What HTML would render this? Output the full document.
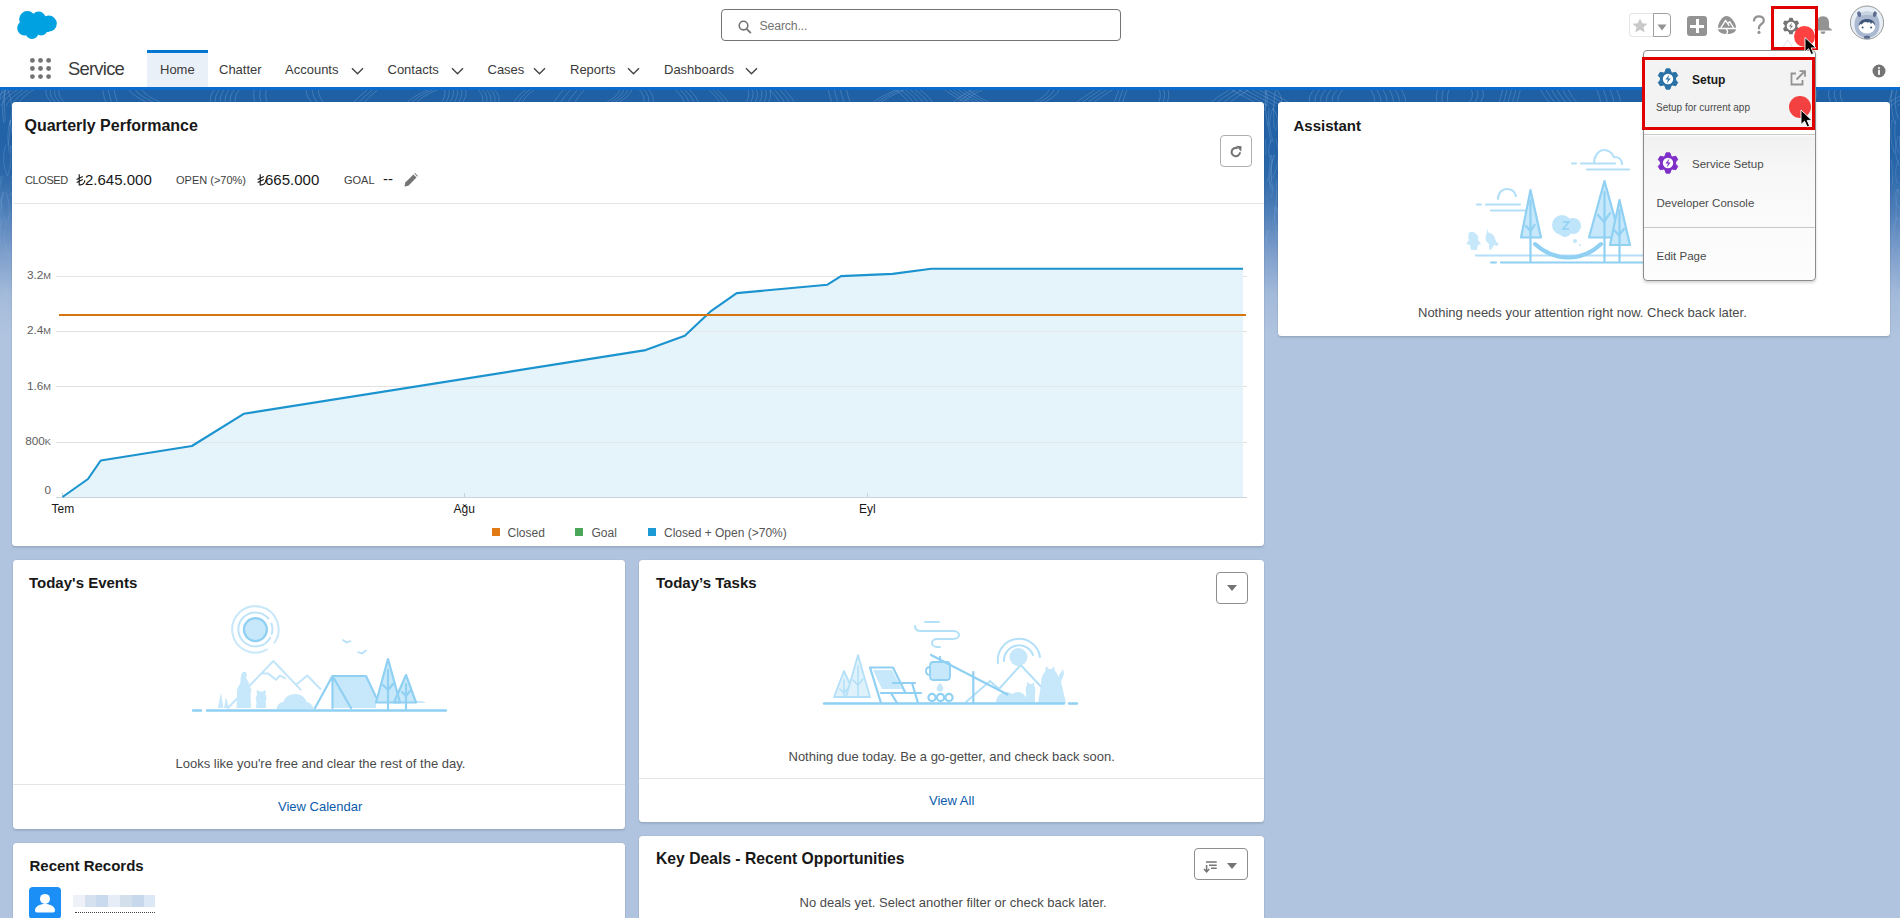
<!DOCTYPE html>
<html><head><meta charset="utf-8">
<style>
*{box-sizing:border-box;margin:0;padding:0}
html,body{width:1900px;height:918px;overflow:hidden}
body{font-family:"Liberation Sans",sans-serif;color:#181818;background:#b0c4df;position:relative}
.abs{position:absolute}
#bg{position:absolute;left:0;top:87px;width:1900px;height:831px;background:linear-gradient(to bottom,#0a6ccc 0px,#0a6ccc 2.5px,#1f60a4 3px,#2463a7 60px,#2b68aa 85px,#4f7fb8 125px,#7d9ecb 166px,#a3bada 207px,#b0c4df 248px)}
#header{position:absolute;left:0;top:0;width:1900px;height:50px;background:#fff}
#nav{position:absolute;left:0;top:50px;width:1900px;height:37px;background:#fff}
.card{position:absolute;background:#fff;border-radius:3.5px;box-shadow:0 2px 2px rgba(0,0,0,0.10),0 0 0 0.5px rgba(0,0,0,0.06)}
.ctitle{position:absolute;font-weight:bold;font-size:16px;color:#181818;white-space:nowrap}
.txt{position:absolute;white-space:nowrap}
.tab{position:absolute;top:62px;font-size:14px;color:#181818;white-space:nowrap}
.chev{position:absolute;top:65px;width:12px;height:8px}
</style></head>
<body>
<div id="bg"></div>
<svg class="abs" style="left:0;top:87px" width="1900" height="250" viewBox="0 87 1900 250"><defs><linearGradient id="fm" x1="0" y1="0" x2="0" y2="1"><stop offset="0" stop-color="#fff" stop-opacity="1"/><stop offset="0.55" stop-color="#fff" stop-opacity="0.6"/><stop offset="1" stop-color="#fff" stop-opacity="0"/></linearGradient><mask id="mk"><rect x="0" y="90" width="1900" height="247" fill="url(#fm)"/></mask><clipPath id="cp"><rect x="0" y="90" width="1900" height="250"/></clipPath></defs><g clip-path="url(#cp)"><g mask="url(#mk)" fill="none" stroke="#8db5e3" stroke-opacity="0.32" stroke-width="1"><path d="M-10.0 106Q-6.3 97 9.8 88 M-4.6 106Q-0.9 97 15.2 88 M0.7 106Q4.4 97 20.5 88 M6.1 106Q9.8 97 25.9 88 M11.4 106Q15.1 97 31.3 88 M16.8 106Q20.5 97 36.6 88 M55.9 106Q43.1 97 46.6 88 M60.1 106Q47.3 97 50.9 88 M64.4 106Q51.6 97 55.2 88 M68.7 106Q55.9 97 59.5 88 M106.9 106Q103.6 97 102.2 88 M112.7 106Q109.4 97 108.0 88 M118.5 106Q115.2 97 113.8 88 M155.9 106Q132.3 97 127.3 88 M162.4 106Q138.8 97 133.8 88 M168.9 106Q145.3 97 140.3 88 M211.5 106Q207.5 97 215.6 88 M216.5 106Q212.4 97 220.6 88 M221.5 106Q217.4 97 225.5 88 M226.5 106Q222.4 97 230.5 88 M231.4 106Q227.4 97 235.5 88 M236.4 106Q232.4 97 240.5 88 M256.9 106Q251.5 97 255.0 88 M262.9 106Q257.5 97 261.0 88 M268.9 106Q263.5 97 267.0 88 M314.8 106Q305.1 97 306.2 88 M320.9 106Q311.2 97 312.3 88 M327.0 106Q317.3 97 318.4 88 M350.4 106Q357.7 97 369.5 88 M355.6 106Q362.9 97 374.7 88 M360.8 106Q368.1 97 379.9 88 M404.6 106Q409.4 97 432.0 88 M409.3 106Q414.0 97 436.6 88 M413.9 106Q418.7 97 441.3 88 M438.6 106Q447.1 97 444.4 88 M442.8 106Q451.3 97 448.7 88 M447.0 106Q455.5 97 452.9 88 M451.2 106Q459.7 97 457.1 88 M455.5 106Q464.0 97 461.3 88 M459.7 106Q468.2 97 465.5 88 M480.5 106Q487.0 97 476.5 88 M484.6 106Q491.0 97 480.6 88 M488.6 106Q495.1 97 484.6 88 M492.7 106Q499.1 97 488.7 88 M496.7 106Q503.2 97 492.7 88 M513.1 106Q514.3 97 528.4 88 M517.2 106Q518.5 97 532.6 88 M521.4 106Q522.6 97 536.7 88 M551.5 106Q556.6 97 565.0 88 M558.5 106Q563.6 97 571.9 88 M565.4 106Q570.5 97 578.9 88 M572.4 106Q577.5 97 585.8 88 M599.6 106Q619.4 97 620.3 88 M603.6 106Q623.4 97 624.3 88 M607.6 106Q627.4 97 628.3 88 M611.6 106Q631.4 97 632.3 88 M642.6 106Q647.3 97 637.8 88 M647.2 106Q651.9 97 642.5 88 M651.8 106Q656.6 97 647.1 88 M685.0 106Q684.6 97 673.2 88 M689.7 106Q689.2 97 677.9 88 M694.3 106Q693.9 97 682.5 88 M698.9 106Q698.5 97 687.2 88 M722.1 106Q717.4 97 707.2 88 M726.3 106Q721.6 97 711.4 88 M730.5 106Q725.8 97 715.6 88 M743.3 106Q751.9 97 747.2 88 M747.6 106Q756.2 97 751.5 88 M752.0 106Q760.6 97 755.9 88 M756.4 106Q765.0 97 760.3 88 M760.8 106Q769.4 97 764.7 88 M765.2 106Q773.8 97 769.1 88 M781.9 106Q777.3 97 768.3 88 M786.8 106Q782.2 97 773.2 88 M791.8 106Q787.2 97 778.2 88 M796.7 106Q792.1 97 783.1 88 M832.8 106Q830.0 97 827.8 88 M838.9 106Q836.0 97 833.9 88 M845.0 106Q842.1 97 839.9 88 M851.0 106Q848.2 97 846.0 88 M867.6 106Q878.6 97 900.0 88 M871.7 106Q882.7 97 904.1 88 M875.8 106Q886.8 97 908.2 88 M910.5 106Q906.2 97 893.2 88 M915.4 106Q911.1 97 898.0 88 M920.3 106Q916.0 97 902.9 88 M925.1 106Q920.9 97 907.8 88 M930.0 106Q925.8 97 912.7 88 M934.9 106Q930.6 97 917.6 88 M950.0 106Q957.1 97 976.1 88 M954.8 106Q962.0 97 981.0 88 M959.7 106Q966.8 97 985.8 88 M973.0 106Q953.2 97 942.1 88 M977.8 106Q957.9 97 946.8 88 M982.5 106Q962.7 97 951.5 88 M987.3 106Q967.4 97 956.3 88 M992.0 106Q972.2 97 961.0 88 M996.8 106Q976.9 97 965.8 88 M1026.5 106Q1047.7 97 1049.7 88 M1031.6 106Q1052.8 97 1054.8 88 M1036.7 106Q1057.9 97 1059.9 88 M1070.8 106Q1083.7 97 1097.7 88 M1076.6 106Q1089.5 97 1103.5 88 M1082.3 106Q1095.3 97 1109.2 88 M1088.1 106Q1101.1 97 1115.0 88 M1113.3 106Q1116.0 97 1119.5 88 M1117.4 106Q1120.1 97 1123.5 88 M1121.4 106Q1124.2 97 1127.6 88 M1156.9 106Q1162.6 97 1158.9 88 M1161.1 106Q1166.9 97 1163.1 88 M1165.3 106Q1171.1 97 1167.4 88 M1206.4 106Q1216.3 97 1232.2 88 M1212.7 106Q1222.7 97 1238.6 88 M1219.1 106Q1229.1 97 1245.0 88 M1225.5 106Q1235.5 97 1251.4 88 M1261.8 106Q1245.0 97 1228.2 88 M1268.6 106Q1251.8 97 1235.1 88 M1275.5 106Q1258.7 97 1241.9 88 M1282.3 106Q1265.5 97 1248.7 88 M1289.1 106Q1272.3 97 1255.6 88 M1296.0 106Q1279.2 97 1262.4 88 M1311.3 106Q1305.3 97 1316.1 88 M1317.0 106Q1311.1 97 1321.9 88 M1322.8 106Q1316.8 97 1327.6 88 M1328.5 106Q1322.5 97 1333.4 88 M1334.2 106Q1328.3 97 1339.1 88 M1340.0 106Q1334.0 97 1344.9 88 M1374.2 106Q1376.4 97 1369.2 88 M1380.4 106Q1382.6 97 1375.4 88 M1386.6 106Q1388.8 97 1381.6 88 M1392.8 106Q1395.0 97 1387.8 88 M1398.9 106Q1401.1 97 1393.9 88 M1405.1 106Q1407.3 97 1400.1 88 M1437.9 106Q1434.4 97 1438.5 88 M1443.5 106Q1440.0 97 1444.1 88 M1449.0 106Q1445.5 97 1449.7 88 M1465.4 106Q1476.4 97 1470.5 88 M1470.9 106Q1481.9 97 1476.0 88 M1476.4 106Q1487.3 97 1481.5 88 M1498.0 106Q1500.9 97 1503.1 88 M1502.5 106Q1505.3 97 1507.5 88 M1506.9 106Q1509.8 97 1511.9 88 M1511.3 106Q1514.2 97 1516.4 88 M1515.8 106Q1518.6 97 1520.8 88 M1552.3 106Q1544.0 97 1539.5 88 M1557.8 106Q1549.5 97 1545.0 88 M1563.3 106Q1555.0 97 1550.5 88 M1568.8 106Q1560.5 97 1556.0 88 M1574.3 106Q1566.0 97 1561.5 88 M1579.8 106Q1571.5 97 1567.0 88 M1601.3 106Q1600.4 97 1596.1 88 M1607.9 106Q1607.0 97 1602.7 88 M1614.6 106Q1613.6 97 1609.4 88 M1621.2 106Q1620.3 97 1616.0 88 M1646.0 106Q1648.7 97 1669.7 88 M1651.0 106Q1653.7 97 1674.8 88 M1656.1 106Q1658.8 97 1679.8 88 M1661.1 106Q1663.8 97 1684.9 88 M1666.2 106Q1668.9 97 1689.9 88 M1671.3 106Q1673.9 97 1695.0 88 M1686.4 106Q1694.2 97 1685.1 88 M1690.7 106Q1698.6 97 1689.4 88 M1695.0 106Q1702.9 97 1693.8 88 M1699.4 106Q1707.3 97 1698.1 88 M1738.3 106Q1750.3 97 1748.6 88 M1744.3 106Q1756.3 97 1754.6 88 M1750.3 106Q1762.3 97 1760.6 88 M1756.3 106Q1768.3 97 1766.7 88 M1762.4 106Q1774.4 97 1772.7 88 M1768.4 106Q1780.4 97 1778.7 88 M1802.4 106Q1808.4 97 1807.2 88 M1807.2 106Q1813.2 97 1812.0 88 M1812.1 106Q1818.0 97 1816.9 88 M1833.9 106Q1825.6 97 1829.7 88 M1839.8 106Q1831.5 97 1835.6 88 M1845.7 106Q1837.4 97 1841.5 88 M1884.3 106Q1894.6 97 1920.4 88 M1890.7 106Q1901.0 97 1926.8 88 M1897.1 106Q1907.4 97 1933.1 88 M1903.4 106Q1913.8 97 1939.5 88 M7.9 90Q15.2 108 9.3 125 M2.4 90Q-2.7 103 -1.5 117 M5.7 90Q0.5 106 3.8 123 M4.1 90Q4.5 106 5.1 122 M10.2 120Q5.8 136 9.5 153 M10.7 120Q9.9 132 8.3 145 M10.6 120Q11.4 128 11.9 135 M5.6 145Q0.8 161 7.3 176 M9.8 145Q13.3 161 7.5 176 M10.8 145Q18.4 165 11.1 185 M3.1 176Q-4.6 192 3.2 209 M0.4 176Q-0.8 188 -1.4 200 M11.0 176Q16.9 186 10.5 196 M4.0 192Q-1.7 209 1.2 226 M6.2 192Q11.6 208 7.7 225 M11.3 192Q18.5 205 8.0 219 M2.7 192Q-0.7 206 4.5 220 M6.2 219Q2.3 238 7.5 257 M11.5 219Q13.2 238 9.9 256 M1.7 219Q-1.9 234 1.7 248 M4.9 219Q-3.0 228 3.9 237 M6.2 245Q11.0 258 6.7 270 M5.9 245Q-1.1 261 6.2 278 M3.2 269Q-2.7 282 2.7 295 M9.8 269Q9.4 287 8.3 306 M2.3 269Q9.1 284 -0.7 299 M0.4 299Q-7.4 309 -1.3 318 M8.7 299Q8.7 310 8.7 320 M7.5 326Q10.7 342 10.5 359 M0.3 326Q5.5 341 1.2 357 M6.5 326Q7.0 344 4.2 362 M2.6 326Q4.0 340 -0.3 354 M1275.3 90Q1272.4 109 1273.9 128 M1276.9 90Q1284.9 100 1280.0 110 M1265.9 90Q1269.5 100 1264.0 111 M1265.4 90Q1264.1 108 1267.7 126 M1272.8 108Q1266.3 125 1273.4 142 M1269.0 108Q1266.8 125 1270.6 143 M1272.9 108Q1280.9 119 1275.5 131 M1265.5 139Q1266.3 147 1265.6 155 M1272.0 139Q1266.9 148 1269.6 157 M1275.8 139Q1282.6 158 1272.5 178 M1270.5 155Q1267.7 172 1270.2 189 M1271.2 155Q1272.8 168 1267.3 181 M1273.8 155Q1268.7 173 1273.4 191 M1274.4 155Q1269.5 167 1271.7 180 M1268.5 180Q1274.0 189 1271.5 197 M1276.7 180Q1277.8 199 1274.2 219 M1275.3 207Q1281.8 217 1277.2 228 M1274.9 207Q1273.4 224 1278.1 242 M1276.3 207Q1280.6 223 1278.4 239 M1266.6 230Q1263.4 247 1263.4 265 M1276.4 230Q1282.9 250 1272.8 270 M1267.8 230Q1264.6 249 1265.6 269 M1269.7 230Q1262.9 240 1269.8 249 M1273.8 255Q1281.5 272 1270.0 289 M1272.6 255Q1268.7 272 1271.8 288 M1273.1 271Q1269.2 278 1271.3 286 M1268.8 271Q1267.4 285 1268.9 299 M1272.9 303Q1266.2 320 1273.7 338 M1274.6 303Q1281.5 311 1271.9 319 M1276.0 327Q1277.5 341 1275.4 356 M1270.9 327Q1269.3 338 1269.4 349 M1896.6 90Q1893.1 105 1898.3 119 M1893.0 90Q1888.9 98 1889.3 105 M1891.6 90Q1889.8 107 1894.7 124 M1895.8 120Q1892.9 137 1898.2 153 M1892.2 120Q1888.3 136 1894.3 153 M1899.4 136Q1898.9 152 1903.2 169 M1898.2 136Q1892.0 151 1899.2 166 M1898.6 160Q1893.1 172 1897.5 184 M1891.4 160Q1893.0 173 1892.5 185 M1897.8 189Q1905.7 203 1901.4 217 M1897.3 189Q1891.2 199 1900.5 210 M1897.8 189Q1895.6 204 1896.0 219 M1897.0 217Q1893.4 227 1894.9 237 M1899.5 217Q1902.0 231 1897.1 245 M1896.8 217Q1889.0 233 1894.9 248 M1890.3 217Q1885.8 225 1888.5 233 M1891.6 247Q1899.3 258 1891.5 268 M1893.5 247Q1893.5 259 1890.6 271 M1898.7 247Q1897.9 265 1901.3 283 M1898.4 247Q1897.5 265 1900.4 282 M1893.7 270Q1901.5 286 1892.3 302 M1895.5 270Q1902.2 287 1894.9 304 M1894.6 293Q1895.3 304 1894.1 316 M1895.7 293Q1895.1 310 1898.3 328 M1892.1 308Q1885.4 324 1890.6 339 M1897.2 308Q1893.8 324 1894.4 340 M1893.6 308Q1891.4 324 1890.5 341 M1895.9 337Q1898.9 356 1894.2 375 M1895.3 337Q1894.6 357 1893.1 377 M1899.7 337Q1899.9 354 1896.4 370 M1898.3 337Q1901.1 345 1899.0 353"/></g></g></svg>
<div id="header">
 <svg class="abs" style="left:0;top:0" width="70" height="50" viewBox="0 0 70 50">
  <g fill="#00a1e0">
   <circle cx="27.4" cy="19.2" r="8.2"/>
   <circle cx="38.6" cy="18.8" r="7.2"/>
   <circle cx="48.8" cy="23.6" r="8"/>
   <circle cx="24.6" cy="28" r="7.4"/>
   <circle cx="32" cy="32.4" r="6.6"/>
   <circle cx="41.2" cy="29.4" r="6.2"/>
   <rect x="24" y="19" width="25" height="13"/>
  </g>
 </svg>
 <div class="abs" style="left:721px;top:9px;width:400px;height:32px;border:1px solid #747474;border-radius:4px;background:#fff"></div>
 <svg class="abs" style="left:737px;top:19px" width="16" height="16" viewBox="0 0 16 16"><circle cx="6.5" cy="6.6" r="4.3" fill="none" stroke="#747474" stroke-width="1.6"/><path d="M9.6 9.8l3.8 3.8" stroke="#747474" stroke-width="1.8" stroke-linecap="round"/></svg>
 <div class="txt" style="left:759.5px;top:18.5px;font-size:12.3px;letter-spacing:-0.15px;color:#747474">Search...</div>
 <!-- favorites -->
 <div class="abs" style="left:1629px;top:13px;width:25px;height:24px;border:1px solid #e5e5e5;border-right:none;border-radius:4px 0 0 4px"></div>
 <div class="abs" style="left:1653px;top:13px;width:18px;height:24px;border:1px solid #a0a0a0;border-radius:0 4px 4px 0"></div>
 <svg class="abs" style="left:1632px;top:18px" width="16" height="15" viewBox="0 0 16 15"><path fill="#c9c9c9" d="M8 0.5l2.2 4.8 5.3.5-4 3.5 1.2 5.2L8 11.8l-4.7 2.7 1.2-5.2-4-3.5 5.3-.5z"/></svg>
 <svg class="abs" style="left:1657px;top:24px" width="10" height="7" viewBox="0 0 10 7"><path fill="#939393" d="M0.5 0.5h9L5 6.5z"/></svg>
 <!-- plus -->
 <div class="abs" style="left:1687px;top:16px;width:20px;height:20px;background:#939393;border-radius:3px"></div>
 <div class="abs" style="left:1690px;top:24.5px;width:14px;height:3px;background:#fff"></div>
 <div class="abs" style="left:1695.5px;top:19px;width:3px;height:14px;background:#fff"></div>
 <!-- trailhead -->
 <svg class="abs" style="left:1717px;top:15px" width="20" height="20" viewBox="0 0 20 20">
  <path fill="#939393" d="M9.5 0.9C13.5 0.9 19 7.5 19 12.8V14C19 17 15 19 10 19C5 19 1 17 1 14V12.8C1 7.5 5.5 0.9 9.5 0.9z"/>
  <path fill="none" stroke="#fff" stroke-width="1.3" stroke-linejoin="round" d="M3.8 12.8L8.6 5.4 12.2 11M10.6 9L12.6 6.6 16.6 12.8M0.5 13.5H19.5M9 13.5L10.6 16.2 9.6 19.5"/>
 </svg>
 <!-- help -->
 <svg class="abs" style="left:1751px;top:15px" width="16" height="20" viewBox="0 0 16 20"><path d="M3 5.6C3 3 5 1.4 7.8 1.4S12.8 3 12.8 5.4C12.8 7.2 11.8 8.2 10.2 9.2 8.6 10.2 8 11 8 12.6V13.4" fill="none" stroke="#939393" stroke-width="2.3" stroke-linecap="round"/><circle cx="8" cy="17.4" r="1.6" fill="#939393"/></svg>
 <!-- gear -->
 <svg class="abs" style="left:1782px;top:17px" width="18" height="18" viewBox="0 0 18 18">
  <path fill="#747474" d="M6.57 3.19L7.41 0.65L10.59 0.65L11.43 3.19A6.3 6.3 0 0 1 12.81 3.99L15.44 3.45L17.03 6.20L15.25 8.20A6.3 6.3 0 0 1 15.25 9.80L17.03 11.80L15.44 14.55L12.81 14.01A6.3 6.3 0 0 1 11.43 14.81L10.59 17.35L7.41 17.35L6.57 14.81A6.3 6.3 0 0 1 5.19 14.01L2.56 14.55L0.97 11.80L2.75 9.80A6.3 6.3 0 0 1 2.75 8.20L0.97 6.20L2.56 3.45L5.19 3.99A6.3 6.3 0 0 1 6.57 3.19Z"/>
  <circle cx="9" cy="9" r="4.3" fill="#fff"/>
  <path fill="#747474" d="M10 5.6L7 9.4h2l-1 3.1 3-3.8H9z"/>
 </svg>
 <!-- bell -->
 <svg class="abs" style="left:1813px;top:15px" width="20" height="20" viewBox="0 0 20 20">
  <path fill="#939393" d="M10 1.2C14.2 1.2 16 4 16 7.8V12.6L18.8 14.6V15.6H1.2V14.6L4 12.6V7.8C4 4 5.8 1.2 10 1.2z"/>
  <path fill="#939393" d="M7.6 16.6h4.8c0 1.4-1 2.3-2.4 2.3s-2.4-.9-2.4-2.3z"/>
 </svg>
 <!-- avatar -->
 <svg class="abs" style="left:1849px;top:5px" width="36" height="36" viewBox="0 0 36 36">
  <circle cx="18" cy="17.6" r="16.6" fill="#e8eef5" stroke="#8c8c8c" stroke-width="0.9"/>
  <path fill="#aab9cf" d="M5.5 19.5C5.5 11.5 10.5 6.5 18 6.5S30.5 11.5 30.5 19.5 26 32.8 18 32.8 5.5 27.5 5.5 19.5z"/>
  <path fill="#c9d4e3" d="M8.5 12C11 8.2 14.2 6.5 18 6.5S25 8.2 27.5 12C24.5 10.6 21.5 10 18 10S11.5 10.6 8.5 12z"/>
  <ellipse cx="10.2" cy="9.2" rx="1.9" ry="2.9" fill="#5e6e92" transform="rotate(-15 10.2 9.2)"/>
  <ellipse cx="25.8" cy="9.2" rx="1.9" ry="2.9" fill="#5e6e92" transform="rotate(15 25.8 9.2)"/>
  <ellipse cx="18" cy="21.4" rx="8.4" ry="7.2" fill="#fff"/>
  <path fill="#40577c" d="M9.6 21.5C9.6 16.5 13 14 18 14S26.4 16.5 26.4 21.5C25.5 19.5 24.5 18.2 23 17.6L22 19.2 21 17.3C19.8 17 18.8 17.2 18 17.8L17 16.8C15 17.2 13.5 18.3 12.6 19.8L12 18.8C10.8 19.6 10 20.5 9.6 21.5z"/>
  <circle cx="13.6" cy="22.6" r="1" fill="#40577c"/><circle cx="22.1" cy="22.6" r="1" fill="#40577c"/>
  <ellipse cx="18" cy="32.2" rx="3.2" ry="1.6" fill="#5e6e92"/>
 </svg>
 <svg class="abs" style="left:1779px;top:39px" width="18" height="13" viewBox="0 0 18 13"><path d="M1 12.5L8.7 1 16.5 12.5" fill="#fff" stroke="#e3e3e3" stroke-width="1"/></svg>
 <!-- red highlight box around gear -->
 <div class="abs" style="left:1771px;top:6px;width:47px;height:44px;border:3px solid #df0000"></div>
 <div class="abs" style="left:1794px;top:25.8px;width:21px;height:21px;border-radius:50%;background:#ff4141"></div>
</div>
<div id="nav">
 <svg class="abs" style="left:30px;top:8px" width="22" height="22" viewBox="0 0 22 22"><g fill="#747474"><circle cx="2.4" cy="2.4" r="2.4"/><circle cx="2.4" cy="10.5" r="2.4"/><circle cx="2.4" cy="18.6" r="2.4"/><circle cx="10.5" cy="2.4" r="2.4"/><circle cx="10.5" cy="10.5" r="2.4"/><circle cx="10.5" cy="18.6" r="2.4"/><circle cx="18.6" cy="2.4" r="2.4"/><circle cx="18.6" cy="10.5" r="2.4"/><circle cx="18.6" cy="18.6" r="2.4"/></g></svg>
 <div class="txt" style="left:68px;top:8.3px;font-size:18.4px;letter-spacing:-0.75px;color:#3a3a3a">Service</div>
 <div class="abs" style="left:147px;top:0;width:61px;height:37px;background:#eaf0f7;border-top:3px solid #0176d3"></div>
 <div class="txt" style="left:160px;top:12px;font-size:13px;color:#3a3a3a">Home</div>
 <div class="txt" style="left:219px;top:12px;font-size:13px;color:#3a3a3a">Chatter</div>
 <div class="txt" style="left:285px;top:12px;font-size:13px;color:#3a3a3a">Accounts</div>
 <svg class="abs" style="left:351px;top:17px" width="13" height="8" viewBox="0 0 13 8"><path d="M1 1.2l5.5 5.5 5.5-5.5" fill="none" stroke="#444" stroke-width="1.4"/></svg>
 <div class="txt" style="left:387.5px;top:12px;font-size:13px;color:#3a3a3a">Contacts</div>
 <svg class="abs" style="left:451px;top:17px" width="13" height="8" viewBox="0 0 13 8"><path d="M1 1.2l5.5 5.5 5.5-5.5" fill="none" stroke="#444" stroke-width="1.4"/></svg>
 <div class="txt" style="left:487.5px;top:12px;font-size:13px;color:#3a3a3a">Cases</div>
 <svg class="abs" style="left:533px;top:17px" width="13" height="8" viewBox="0 0 13 8"><path d="M1 1.2l5.5 5.5 5.5-5.5" fill="none" stroke="#444" stroke-width="1.4"/></svg>
 <div class="txt" style="left:570px;top:12px;font-size:13px;color:#3a3a3a">Reports</div>
 <svg class="abs" style="left:626.5px;top:17px" width="13" height="8" viewBox="0 0 13 8"><path d="M1 1.2l5.5 5.5 5.5-5.5" fill="none" stroke="#444" stroke-width="1.4"/></svg>
 <div class="txt" style="left:664px;top:12px;font-size:13px;color:#3a3a3a">Dashboards</div>
 <svg class="abs" style="left:744.5px;top:17px" width="13" height="8" viewBox="0 0 13 8"><path d="M1 1.2l5.5 5.5 5.5-5.5" fill="none" stroke="#444" stroke-width="1.4"/></svg>
 <svg class="abs" style="left:1872px;top:14px" width="14" height="14" viewBox="0 0 14 14"><circle cx="7" cy="7" r="6.5" fill="#747474"/><rect x="6.1" y="5.8" width="1.8" height="5" fill="#fff"/><circle cx="7" cy="3.9" r="1" fill="#fff"/></svg>
</div>

<!-- cards -->
<div class="card" style="left:12px;top:102px;width:1252px;height:444px"></div>
<div class="card" style="left:1278px;top:102px;width:612px;height:234px"></div>
<div class="card" style="left:13px;top:560px;width:612px;height:269px"></div>
<div class="card" style="left:639px;top:560px;width:625px;height:262px"></div>
<div class="card" style="left:13px;top:843px;width:612px;height:100px"></div>
<div class="card" style="left:639px;top:836px;width:625px;height:100px"></div>

<!-- Quarterly Performance -->
<div class="ctitle" style="left:24.5px;top:117px">Quarterly Performance</div>
<div class="abs" style="left:1220px;top:135px;width:32px;height:32px;border:1px solid #aeaeae;border-radius:4px"></div>
<svg class="abs" style="left:1229px;top:145px" width="14" height="14" viewBox="0 0 14 14"><path d="M11 7.2A4.2 4.2 0 1 1 8.6 3.3" fill="none" stroke="#747474" stroke-width="2"/><path d="M7 0.8L12.6 1.2 12.2 6.8z" fill="#747474"/></svg>
<div class="txt" style="left:25px;top:174px;font-size:11px;color:#3e3e3c;letter-spacing:-0.4px">CLOSED</div>
<svg class="abs" style="left:76px;top:174px" width="10" height="12" viewBox="0 0 10 12"><path d="M3.2 0.3V10.8H4.2C7 10.8 8.6 9 8.8 6.2M0.6 5.6L6.8 2.6M0.6 8.4L6.8 5.4" fill="none" stroke="#181818" stroke-width="1.15"/></svg>
<div class="txt" style="left:85px;top:171px;font-size:15px;color:#181818">2.645.000</div>
<div class="txt" style="left:176px;top:174px;font-size:11px;color:#3e3e3c">OPEN (&gt;70%)</div>
<svg class="abs" style="left:256.5px;top:174px" width="10" height="12" viewBox="0 0 10 12"><path d="M3.2 0.3V10.8H4.2C7 10.8 8.6 9 8.8 6.2M0.6 5.6L6.8 2.6M0.6 8.4L6.8 5.4" fill="none" stroke="#181818" stroke-width="1.15"/></svg>
<div class="txt" style="left:265px;top:171px;font-size:15px;color:#181818">665.000</div>
<div class="txt" style="left:344px;top:174px;font-size:11px;color:#3e3e3c">GOAL</div>
<div class="txt" style="left:383px;top:170px;font-size:15px;color:#181818">--</div>
<svg class="abs" style="left:404px;top:173px" width="14" height="14" viewBox="0 0 14 14"><path d="M0.5 13.5L1.3 9.6 9.4 1.5 12.5 4.6 4.4 12.7z" fill="#747474"/><path d="M10.3 0.6L11.1 0 14 2.9 13.4 3.7z" fill="#747474"/></svg>
<div class="abs" style="left:13px;top:203px;width:1251px;height:1px;background:#e5e5e5"></div>
<svg class="abs" style="left:0;top:0" width="1900" height="918" viewBox="0 0 1900 918">
 <g stroke="#e5e5e5" stroke-width="1">
  <path d="M56 276.5H1247M56 331.5H1247M56 386.5H1247M56 442.5H1247"/>
 </g>
 <path d="M62.5 497 L88 479 L100.7 460.5 L191.9 446 L243.7 413.8 L645.7 350.1 L684.8 335.8 L711.3 310.8 L736.7 293.1 L827.4 284.7 L841 276.1 L892.6 273.9 L931.2 268.8 L1243 268.8 L1243 497 L62.5 497Z" fill="#e5f3fb"/>
 <g stroke="#e0e0e0" stroke-width="1" opacity="0.6"><path d="M56 331.5H1247M56 386.5H1247M56 442.5H1247"/></g>
 <path d="M56 497.5H1247" stroke="#c9d3dc" stroke-width="1"/>
 <path d="M464.5 493V498M867.5 493V498M62.5 493V498" stroke="#c9d3dc" stroke-width="1"/>
  <path d="M62.5 497 L88 479 L100.7 460.5 L191.9 446 L243.7 413.8 L645.7 350.1 L684.8 335.8 L711.3 310.8 L736.7 293.1 L827.4 284.7 L841 276.1 L892.6 273.9 L931.2 268.8 L1243 268.8" fill="none" stroke="#1b93cf" stroke-width="2.1" stroke-linejoin="round"/>
 <path d="M59 315H1246" stroke="#d4750e" stroke-width="2.2"/>
 <rect x="492" y="528" width="8" height="8" fill="#e07b13"/>
 <rect x="575" y="528" width="8" height="8" fill="#4ba659"/>
 <rect x="648" y="528" width="8" height="8" fill="#1b9ad6"/>
</svg>
<div class="txt" style="left:0;width:51px;text-align:right;top:268px;font-size:11.8px;color:#5e5e5e">3.2<span style="font-size:9.2px">M</span></div>
<div class="txt" style="left:0;width:51px;text-align:right;top:323px;font-size:11.8px;color:#5e5e5e">2.4<span style="font-size:9.2px">M</span></div>
<div class="txt" style="left:0;width:51px;text-align:right;top:379px;font-size:11.8px;color:#5e5e5e">1.6<span style="font-size:9.2px">M</span></div>
<div class="txt" style="left:0;width:51px;text-align:right;top:434px;font-size:11.8px;color:#5e5e5e">800<span style="font-size:9.2px">K</span></div>
<div class="txt" style="left:0;width:51px;text-align:right;top:483px;font-size:11.8px;color:#5e5e5e">0</div>
<div class="txt" style="left:51.5px;top:502px;font-size:12px;color:#181818">Tem</div>
<div class="txt" style="left:453.5px;top:502px;font-size:12px;color:#181818">Ağu</div>
<div class="txt" style="left:859px;top:502px;font-size:12px;color:#181818">Eyl</div>
<div class="txt" style="left:507.5px;top:526px;font-size:12px;color:#555">Closed</div>
<div class="txt" style="left:591.5px;top:526px;font-size:12px;color:#555">Goal</div>
<div class="txt" style="left:664px;top:526px;font-size:12px;color:#555">Closed + Open (&gt;70%)</div>

<!-- Assistant -->
<div class="ctitle" style="left:1293.5px;top:117px;font-size:15px">Assistant</div>
<svg class="abs" style="left:0;top:0" width="1900" height="918" viewBox="0 0 1900 918">
 <g fill="none" stroke="#b3e0f8" stroke-width="2.2" stroke-linecap="round">
  <path d="M1572 163.5h4M1581 163.5h34M1587 169.5h42M1594 163c0-6 4-13 10-13 5 0 8 3 10 7 5 0 8 3 8 7"/>
  <path d="M1477 204.5h4M1486 204.5h34M1491 210.5h34M1498 199c0-6 4-10 9-10 5 0 8 3 9 7"/>
  <path d="M1476 255.5H1643"/>
 </g>
 <g fill="#c6e8fa" stroke="#8fd0f3" stroke-width="2.2" stroke-linejoin="round">
  <path d="M1530.5 190L1521 237.5H1541Z"/>
  <path d="M1604.5 181L1589 237.5H1620Z"/>
  <path d="M1619.5 200L1610 245H1630Z"/>
 </g>
 <g fill="none" stroke="#8fd0f3" stroke-width="2.2" stroke-linecap="round">
  <path d="M1530.5 200V262M1604.5 192V262M1619.5 210V262"/>
  <path d="M1491 262.5h5M1501 262.5H1643"/>
  <path d="M1535 244C1555 262 1582 262 1601 244" stroke-width="4"/>
  <path d="M1526 226l4.5 5 4-6M1598 215l6 7 6-9M1614 230l5 5 5-6"/>
 </g>
 <g fill="#bfe5fa">
  <circle cx="1562" cy="225" r="10"/><circle cx="1573" cy="226" r="8"/><circle cx="1565" cy="231" r="6"/>
  <circle cx="1575" cy="241" r="2"/><circle cx="1580" cy="245" r="1"/>
 </g>
 <path d="M1563 222h6l-6 7h6" fill="none" stroke="#8fd0f3" stroke-width="1.4"/>
 <g fill="#c6e8fa">
  <path d="M1468 234c2-3 6-3 8 0 2 1 3 4 2 6l3 4-3 1-1 5h-6l-1-5-4-1 3-4c-1-2-1-4 0-6z"/>
  <path d="M1487 229l2 4c3 0 6 3 6 6l2 4h2l-2 3-3-1-3 5-2-1 0-5-3-3c-1-3 0-6 1-9z"/>
 </g>
</svg>
<div class="txt" style="left:1418px;top:305px;font-size:13px;color:#4a4a4a">Nothing needs your attention right now. Check back later.</div>

<!-- Today's Events -->
<div class="ctitle" style="left:29px;top:574px;font-size:15px">Today's Events</div>
<svg class="abs" style="left:0;top:0" width="1900" height="918" viewBox="0 0 1900 918">
 <g fill="none" stroke-linecap="round">
  <circle cx="255.4" cy="629.6" r="11.5" fill="#c6e8fa" stroke="#8fd0f3" stroke-width="2.2"/>
  <path d="M270.1 637.9A17 17 0 1 1 268.4 618.5M271.4 623.6A17 17 0 0 1 271.8 633.8" stroke="#bfe4f9" stroke-width="2"/>
  <path d="M267.0 649.5A23.2 23.2 0 1 1 274.4 642.7" stroke="#c8e8fa" stroke-width="2"/>
  <path d="M228 708L273.4 661 300.6 689.6M261 673.4H268L275.8 679.7 280 675.5 285 678.3M297 684L307.3 675.5 320.4 689" stroke="#c2e5f9" stroke-width="2" stroke-linejoin="round"/>
  <path d="M193 710.5h8M207 710.5H446" stroke="#8fd0f3" stroke-width="2.4"/>
  <path d="M343 640l3.5 2.5 4-1.5M358 652l4 1.5 4-3" stroke="#b3e0f8" stroke-width="1.6"/>
 </g>
 <g fill="#c6e8fa">
  <path d="M236.5 708l0.5-14c-0.5-3 0.5-7 2.5-9l1-3c0-5 1-10 3-10h2.5l1 3-1 3c2 2 3 5 3.5 8l2 4-1 4 0.5 14z"/>
  <path d="M217.8 708l3.2-15.5 2.5 15.5zM224 708l2-11 3 11z"/>
  <path d="M256 708l0.5-6-1-4 1.5-3-0.5-4 1-1 2 1.5h3.5l2-1.5 0.8 1-0.3 4 1.2 3-1 4 0.5 6z"/>
  <path d="M276.5 709c1-5 4-7 7-7 1-5 6-8 12-8s10 4 11 8c3 0 6 3 7.5 7z"/>
  <path d="M333 676H366L376 697V708H333z"/>
  <path d="M388 659L376 703H400z" /><path d="M406 675L394 703H416z"/>
  <path d="M410 703c3-3 12-3 16 0z"/>
 </g>
 <g fill="none" stroke="#8fd0f3" stroke-width="2.2" stroke-linejoin="round" stroke-linecap="round">
  <path d="M315 708L332.5 676 351 708M332.5 676V708M332.5 676H366L376 697"/>
  <path d="M388 659L376 702.5H400ZM388 670V709M383 685l5 5 5-6"/>
  <path d="M406 675L394 702.5H416ZM406 684V709M402 692l4 4 4-5"/>
 </g>
</svg>
<div class="txt" style="left:175.5px;top:755.5px;font-size:13px;color:#4a4a4a">Looks like you're free and clear the rest of the day.</div>
<div class="abs" style="left:13px;top:784px;width:612px;height:1px;background:#e5e5e5"></div>
<div class="txt" style="left:278px;top:799px;font-size:13px;color:#0b5cab">View Calendar</div>

<!-- Today's Tasks -->
<div class="ctitle" style="left:656px;top:574px;font-size:15px">Today’s Tasks</div>
<div class="abs" style="left:1216px;top:572px;width:32px;height:32px;border:1px solid #8e8e8e;border-radius:4px"></div>
<svg class="abs" style="left:1226px;top:584px" width="12" height="8" viewBox="0 0 12 8"><path d="M1 1h10L6 7z" fill="#747474"/></svg>
<svg class="abs" style="left:0;top:0" width="1900" height="918" viewBox="0 0 1900 918">
 <g fill="none" stroke="#b3e0f8" stroke-width="2" stroke-linecap="round">
  <path d="M925 622h14M915 626c0 3 2 5 6 5h32c4 0 6 2 6 4s-2 4-6 4h-16c-3 0-5 2-5 4s2 4 5 4h3"/>
  <path d="M1004 661A15 15 0 0 1 1033 655M998 663A21 21 0 0 1 1040 657"/>
  <path d="M966 702L990 681 999 689 1020.7 665 1046 692"/>
 </g>
 <g fill="#dff2fc" stroke="#b3e0f8" stroke-width="1.8" stroke-linejoin="round">
  <path d="M844 671L834 697H856Z"/><path d="M858 655L846 697H870Z"/>
 </g>
 <g fill="none" stroke="#b3e0f8" stroke-width="1.6" stroke-linecap="round">
  <path d="M844 680V697M858 666V697M840 689l4 4 4-5M853 680l5 5 5-6"/>
 </g>
 <g fill="#c6e8fa">
  <circle cx="1018.5" cy="657" r="9"/>
  <path d="M873 670h19l10 19h-20z"/>
  <path d="M933 662h14c2 0 3 2 3 4v10c0 2-1 4-3 4h-14c-2 0-3-2-3-4v-10c0-2 1-4 3-4z"/>
  <path d="M940 683c-3 3-4 5-3 7 1 2 5 2 6 0 1-2 0-4-3-7z"/>
  <path d="M996 703c0-7 5-11 10-11 6 0 10 4 10 11zM1009 703c0-7 4-11 9-11 5 0 9 4 9 11z"/>
  <path d="M1038 703l3-18c0-6 1-10 4-13l1-6 3 3 3 0 2-3 1 5c2 2 3 4 3 6l3-5 2-3 1 5-3 8 5 21z"/>
  <path d="M1026 703l0-10c-1-3 0-6 1-8l0-3 3 2h2l2-2 0 3c1 2 2 5 1 8l0 10z"/>
 </g>
 <g fill="none" stroke="#8fd0f3" stroke-width="2.2" stroke-linecap="round" stroke-linejoin="round">
  <path d="M824 703.5H1064M1069 703.5h8" stroke-width="2.4"/>
  <path d="M870 667.5H893L905 692M870 667.5L881 703M893 683H915M881 693H921M912 683L918 703M891 693L897 703"/>
  <path d="M931 655L1007.5 694.5M973.3 672V703M940 657V662"/>
  <path d="M933 662h14c2 0 3 2 3 4v10c0 2-1 4-3 4h-14c-2 0-3-2-3-4v-10c0-2 1-4 3-4zM930 667c-3 0-4 2-4 4s1 4 4 4" stroke-width="1.8"/>
  <circle cx="932" cy="697.5" r="3.6"/><circle cx="940.5" cy="697.5" r="3.6"/><circle cx="949" cy="697.5" r="3.6"/>
 </g>
</svg>
<div class="txt" style="left:788.5px;top:748.5px;font-size:13px;color:#4a4a4a">Nothing due today. Be a go-getter, and check back soon.</div>
<div class="abs" style="left:639px;top:778px;width:625px;height:1px;background:#e5e5e5"></div>
<div class="txt" style="left:929px;top:793px;font-size:13px;color:#0b5cab">View All</div>

<!-- Recent Records -->
<div class="ctitle" style="left:29.5px;top:857px;font-size:15px">Recent Records</div>
<div class="abs" style="left:29px;top:887px;width:32px;height:32px;background:#1b8ff5;border-radius:4px"></div>
<svg class="abs" style="left:29px;top:887px" width="32" height="32" viewBox="0 0 32 32"><circle cx="16" cy="11.9" r="5" fill="#fff"/><path d="M6 23.5c0-4 4.5-6.5 10-6.5s10 2.5 10 6.5c0 1.2-.8 2-2 2H8c-1.2 0-2-.8-2-2z" fill="#fff"/></svg>
<div class="abs" style="left:73px;top:895px;width:82px;height:12px;background:linear-gradient(90deg,#eef2f8 0 12px,#d5e1ee 12px 23px,#c9daee 23px 35px,#e6edf6 35px 47px,#d3e0ec 47px 59px,#c8d8ec 59px 71px,#dce8f5 71px)"></div>
<div class="abs" style="left:75px;top:912px;width:80px;height:1px;border-top:1px dotted #444"></div>

<!-- Key Deals -->
<div class="ctitle" style="left:656px;top:850px;font-size:15.7px">Key Deals - Recent Opportunities</div>
<div class="abs" style="left:1194px;top:848px;width:54px;height:32px;border:1px solid #8e8e8e;border-radius:4px"></div>
<svg class="abs" style="left:1202px;top:857px" width="18" height="18" viewBox="0 0 18 18"><path d="M4 5h10.7M7 8.2h7.7M9 11.3h5.7" fill="none" stroke="#747474" stroke-width="1.5"/><path d="M4.6 8V14.5M2 12l2.6 2.8 2.6-2.8" fill="none" stroke="#747474" stroke-width="1.5"/></svg>
<svg class="abs" style="left:1226px;top:862px" width="12" height="8" viewBox="0 0 12 8"><path d="M1 1h10L6 7z" fill="#747474"/></svg>
<div class="txt" style="left:799.5px;top:895px;font-size:13px;color:#4a4a4a">No deals yet. Select another filter or check back later.</div>

<!-- Setup menu -->
<div class="abs" style="left:1643px;top:50px;width:173px;height:231px;border:1px solid #8c8c8c;border-radius:4px;background:linear-gradient(#fff 0,#fff 84px,#f1f1f1 86px,#f7f7f7 120px,#fbfbfb 180px,#fdfdfd 230px);box-shadow:0 2px 3px rgba(0,0,0,0.16)"></div>
<div class="abs" style="left:1644px;top:134px;width:171px;height:1px;background:#c9c9c9"></div>
<div class="abs" style="left:1644px;top:227px;width:171px;height:1px;background:#c9c9c9"></div>
<div class="abs" style="left:1642px;top:57px;width:173px;height:73px;border:3px solid #df0000;background:#f3f3f3"></div>
<svg class="abs" style="left:1657px;top:68px" width="22" height="22" viewBox="0 0 22 22"><path fill="#2a72a6" stroke="#2a72a6" stroke-width="1" stroke-linejoin="round" d="M8.08 3.98L9.11 0.87L12.89 0.87L13.92 3.98A7.6 7.6 0 0 1 15.61 4.96L18.82 4.30L20.71 7.57L18.54 10.02A7.6 7.6 0 0 1 18.54 11.98L20.71 14.43L18.82 17.70L15.61 17.04A7.6 7.6 0 0 1 13.92 18.02L12.89 21.13L9.11 21.13L8.08 18.02A7.6 7.6 0 0 1 6.39 17.04L3.18 17.70L1.29 14.43L3.46 11.98A7.6 7.6 0 0 1 3.46 10.02L1.29 7.57L3.18 4.30L6.39 4.96A7.6 7.6 0 0 1 8.08 3.98Z"/><circle cx="11" cy="11" r="5.2" fill="#fff"/><path fill="#2a72a6" d="M12.4 6.6L8.4 11.6h2.6l-1.3 3.8 4-5H11.1z"/></svg>
<div class="txt" style="left:1692px;top:73px;font-size:12px;font-weight:bold;color:#181818">Setup</div>
<svg class="abs" style="left:1789px;top:70px" width="18" height="16" viewBox="0 0 18 16"><path d="M7 3.5H2.5V14.5H13.5V10" fill="none" stroke="#939393" stroke-width="1.8"/><path d="M7.5 9.5L15.5 1.5M10.5 1.2H16V6.7" fill="none" stroke="#939393" stroke-width="1.8"/></svg>
<div class="txt" style="left:1656px;top:102px;font-size:10px;color:#4a4a4a">Setup for current app</div>
<svg class="abs" style="left:1657px;top:152px" width="22" height="22" viewBox="0 0 22 22"><path fill="#7f2ec7" stroke="#7f2ec7" stroke-width="1" stroke-linejoin="round" d="M8.08 3.98L9.11 0.87L12.89 0.87L13.92 3.98A7.6 7.6 0 0 1 15.61 4.96L18.82 4.30L20.71 7.57L18.54 10.02A7.6 7.6 0 0 1 18.54 11.98L20.71 14.43L18.82 17.70L15.61 17.04A7.6 7.6 0 0 1 13.92 18.02L12.89 21.13L9.11 21.13L8.08 18.02A7.6 7.6 0 0 1 6.39 17.04L3.18 17.70L1.29 14.43L3.46 11.98A7.6 7.6 0 0 1 3.46 10.02L1.29 7.57L3.18 4.30L6.39 4.96A7.6 7.6 0 0 1 8.08 3.98Z"/><circle cx="11" cy="11" r="5.2" fill="#fff"/><path fill="#7f2ec7" d="M12.4 6.6L8.4 11.6h2.6l-1.3 3.8 4-5H11.1z"/></svg>
<div class="txt" style="left:1692px;top:157.5px;font-size:11.5px;color:#4a4a4a">Service Setup</div>
<div class="txt" style="left:1656.5px;top:196.5px;font-size:11.5px;color:#4a4a4a">Developer Console</div>
<div class="txt" style="left:1656.5px;top:249.5px;font-size:11.5px;color:#4a4a4a">Edit Page</div>
<div class="abs" style="left:1789px;top:96px;width:22px;height:22px;border-radius:50%;background:#f34040"></div>
<svg class="abs" style="left:1800px;top:109px" width="13" height="19" viewBox="0 0 13 19"><path d="M1 1V15.5L4.6 12.2 7.2 18 9.6 17 7.2 11.4H12z" fill="#000" stroke="#fff" stroke-width="0.9"/></svg>
<svg class="abs" style="left:1804px;top:36px" width="13" height="20" viewBox="0 0 13 19"><path d="M1 1V15.5L4.6 12.2 7.2 18 9.6 17 7.2 11.4H12z" fill="#000" stroke="#fff" stroke-width="0.9"/></svg>

</body></html>
